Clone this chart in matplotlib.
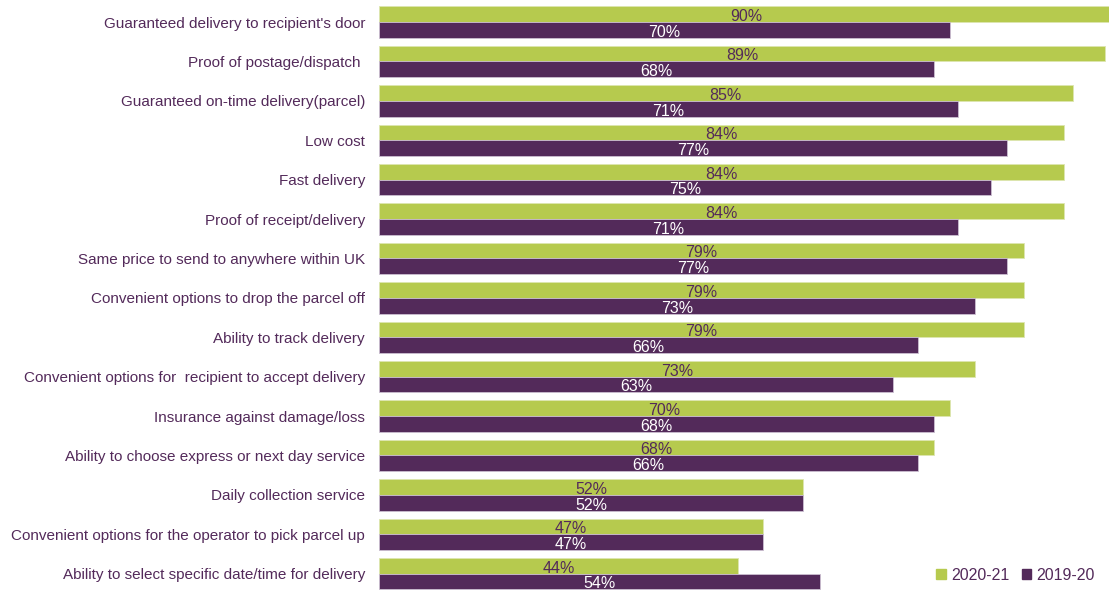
import numpy as np
import matplotlib.pyplot as plt
from matplotlib.patches import Patch

# survey data (percent)
categories = [
    "Guaranteed delivery to recipient's door",
    "Proof of postage/dispatch ",
    "Guaranteed on-time delivery(parcel)",
    "Low cost",
    "Fast delivery",
    "Proof of receipt/delivery",
    "Same price to send to anywhere within UK",
    "Convenient options to drop the parcel off",
    "Ability to track delivery",
    "Convenient options for  recipient to accept delivery",
    "Insurance against damage/loss",
    "Ability to choose express or next day service",
    "Daily collection service",
    "Convenient options for the operator to pick parcel up",
    "Ability to select specific date/time for delivery",
]
y2021 = [90, 89, 85, 84, 84, 84, 79, 79, 79, 73, 70, 68, 52, 47, 44]
y1920 = [70, 68, 71, 77, 75, 71, 77, 73, 66, 63, 68, 66, 52, 47, 54]
series_names = ["2020-21", "2019-20"]

green = "#B6CA4E"
purple = "#532A5A"

plt.rcParams['font.family'] = ['Liberation Sans', 'DejaVu Sans']

fig = plt.figure(figsize=(11.09, 5.91), dpi=100)
ax = fig.add_axes([379 / 1109, 0, 1 - 379 / 1109, 1])

y = np.arange(len(categories))
h = 0.4
ax.barh(y - h / 2, y2021, height=h, color=green, edgecolor="#dde6b0", linewidth=0.6)
ax.barh(y + h / 2, y1920, height=h, color=purple, edgecolor="#cbbfd0", linewidth=0.6)

for i in range(len(categories)):
    ax.text(y2021[i] / 2, y[i] - h / 2 + 0.06, f"{y2021[i]}%", ha="center", va="center",
            color=purple, fontsize=11.5)
    ax.text(y1920[i] / 2, y[i] + h / 2 + 0.06, f"{y1920[i]}%", ha="center", va="center",
            color="white", fontsize=11.5)

ax.set_xlim(0, 730 / 8.16)
ax.set_ylim(len(categories) - 1 + 0.44, -0.56)
ax.set_yticks(y)
ax.set_yticklabels(categories, color=purple, fontsize=11)
ax.tick_params(axis="y", length=0, pad=10)
ax.set_xticks([])
for s in ax.spines.values():
    s.set_visible(False)

handles = [Patch(color=green), Patch(color=purple)]
ax.legend(handles, series_names, loc="lower right", bbox_to_anchor=(1.0, -0.01), ncol=2,
          frameon=False, fontsize=11.5, labelcolor=purple, handlelength=0.6, handleheight=0.6,
          handletextpad=0.3, columnspacing=0.8)

fig.savefig("out.png", dpi=100)
